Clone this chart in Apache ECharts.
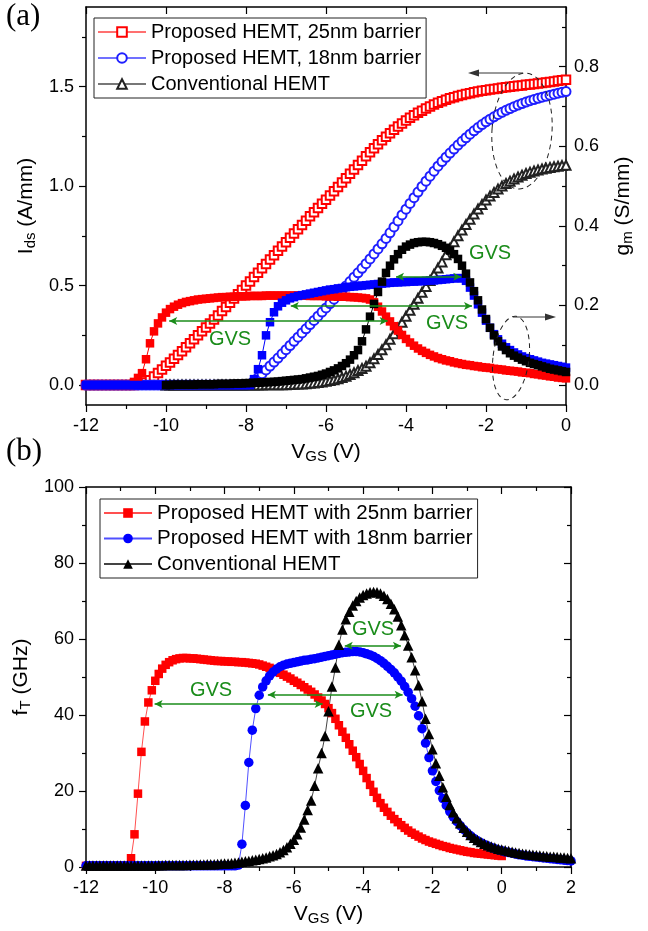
<!DOCTYPE html>
<html>
<head>
<meta charset="utf-8">
<script src="https://cdn.jsdelivr.net/npm/echarts@6/dist/echarts.min.js"></script>
<style>
html, body { margin: 0; padding: 0; background: #fff; }
#chart { width: 648px; height: 931px; }
</style>
</head>
<body>
<div id="chart"></div>
<script>
// gate voltage sweep (V), 0.1 V step
var vgs = [
  -12, -11.9, -11.8, -11.7, -11.6, -11.5, -11.4, -11.3, -11.2, -11.1,
  -11, -10.9, -10.8, -10.7, -10.6, -10.5, -10.4, -10.3, -10.2, -10.1,
  -10, -9.9, -9.8, -9.7, -9.6, -9.5, -9.4, -9.3, -9.2, -9.1,
  -9, -8.9, -8.8, -8.7, -8.6, -8.5, -8.4, -8.3, -8.2, -8.1,
  -8, -7.9, -7.8, -7.7, -7.6, -7.5, -7.4, -7.3, -7.2, -7.1,
  -7, -6.9, -6.8, -6.7, -6.6, -6.5, -6.4, -6.3, -6.2, -6.1,
  -6, -5.9, -5.8, -5.7, -5.6, -5.5, -5.4, -5.3, -5.2, -5.1,
  -5, -4.9, -4.8, -4.7, -4.6, -4.5, -4.4, -4.3, -4.2, -4.1,
  -4, -3.9, -3.8, -3.7, -3.6, -3.5, -3.4, -3.3, -3.2, -3.1,
  -3, -2.9, -2.8, -2.7, -2.6, -2.5, -2.4, -2.3, -2.2, -2.1,
  -2, -1.9, -1.8, -1.7, -1.6, -1.5, -1.4, -1.3, -1.2, -1.1,
  -1, -0.9, -0.8, -0.7, -0.6, -0.5, -0.4, -0.3, -0.2, -0.1,
  0, 0.1, 0.2, 0.3, 0.4, 0.5, 0.6, 0.7, 0.8, 0.9,
  1, 1.1, 1.2, 1.3, 1.4, 1.5, 1.6, 1.7, 1.8, 1.9,
  2
];
var vgsA = vgs.slice(0, 121);    // -12 .. 0
var vgsA10 = vgs.slice(20, 121); // -10 .. 0 (conventional device in (a))

// (a) drain current Ids (A/mm), -12 .. 0
var idsRed = [
  0, 0, 0, 0, 0, 0, 0, 0, 0, 0,
  0, 0, 0, 0.002, 0.006, 0.013, 0.025, 0.043, 0.061, 0.079,
  0.097, 0.114, 0.132, 0.151, 0.17, 0.19, 0.21, 0.23, 0.25, 0.27,
  0.29, 0.31, 0.33, 0.35, 0.372, 0.393, 0.414, 0.435, 0.456, 0.478,
  0.5, 0.521, 0.543, 0.565, 0.587, 0.609, 0.631, 0.653, 0.675, 0.697,
  0.718, 0.74, 0.762, 0.783, 0.805, 0.826, 0.848, 0.869, 0.89, 0.911,
  0.932, 0.953, 0.974, 0.996, 1.018, 1.04, 1.062, 1.084, 1.106, 1.128,
  1.15, 1.17, 1.19, 1.21, 1.23, 1.248, 1.266, 1.283, 1.3, 1.315,
  1.33, 1.343, 1.356, 1.368, 1.379, 1.39, 1.4, 1.41, 1.419, 1.427,
  1.434, 1.441, 1.447, 1.453, 1.458, 1.463, 1.467, 1.471, 1.475, 1.479,
  1.482, 1.485, 1.488, 1.491, 1.494, 1.497, 1.499, 1.502, 1.504, 1.506,
  1.509, 1.511, 1.513, 1.516, 1.518, 1.52, 1.523, 1.526, 1.529, 1.532,
  1.535
];
var idsBlue = [
  0, 0, 0, 0, 0, 0, 0, 0, 0, 0,
  0, 0, 0, 0, 0, 0, 0, 0, 0, 0,
  0, 0, 0, 0, 0, 0, 0, 0, 0, 0,
  0, 0, 0, 0, 0, 0, 0, 0, 0, 0,
  0, 0.005, 0.02, 0.038, 0.057, 0.076, 0.096, 0.116, 0.136, 0.157,
  0.178, 0.199, 0.22, 0.241, 0.262, 0.283, 0.304, 0.325, 0.346, 0.367,
  0.388, 0.41, 0.432, 0.454, 0.476, 0.498, 0.52, 0.542, 0.564, 0.587,
  0.61, 0.634, 0.659, 0.684, 0.71, 0.737, 0.765, 0.795, 0.825, 0.855,
  0.884, 0.913, 0.942, 0.97, 0.998, 1.025, 1.05, 1.075, 1.1, 1.123,
  1.145, 1.166, 1.186, 1.206, 1.225, 1.243, 1.261, 1.278, 1.294, 1.309,
  1.323, 1.336, 1.348, 1.36, 1.371, 1.381, 1.39, 1.399, 1.407, 1.415,
  1.422, 1.429, 1.435, 1.441, 1.447, 1.452, 1.457, 1.462, 1.467, 1.471,
  1.475
];
// conventional, -10 .. 0
var idsBlack = [
  0, 0, 0, 0, 0, 0, 0, 0, 0, 0,
  0, 0, 0, 0, 0, 0, 0, 0, 0, 0,
  0.001, 0.001, 0.001, 0.001, 0.001, 0.002, 0.002, 0.002, 0.002, 0.002,
  0.002, 0.003, 0.004, 0.005, 0.006, 0.007, 0.009, 0.011, 0.013, 0.016,
  0.019, 0.023, 0.027, 0.032, 0.038, 0.045, 0.053, 0.062, 0.073, 0.084,
  0.095, 0.112, 0.132, 0.154, 0.178, 0.203, 0.23, 0.258, 0.287, 0.316,
  0.346, 0.376, 0.406, 0.436, 0.466, 0.496, 0.526, 0.557, 0.588, 0.619,
  0.655, 0.688, 0.72, 0.75, 0.779, 0.807, 0.834, 0.86, 0.885, 0.908,
  0.93, 0.95, 0.968, 0.985, 1, 1.013, 1.025, 1.036, 1.046, 1.055,
  1.063, 1.07, 1.076, 1.081, 1.086, 1.09, 1.094, 1.097, 1.1, 1.103,
  1.105
];

// (a) transconductance gm (S/mm)
var gmRed = [
  0, 0, 0, 0, 0, 0, 0, 0, 0, 0,
  0, 0, 0.008, 0.018, 0.03, 0.065, 0.105, 0.135, 0.155, 0.17,
  0.182, 0.191, 0.197, 0.202, 0.206, 0.209, 0.211, 0.213, 0.215, 0.216,
  0.217, 0.218, 0.219, 0.22, 0.221, 0.221, 0.222, 0.222, 0.223, 0.223,
  0.223, 0.224, 0.224, 0.224, 0.224, 0.225, 0.225, 0.225, 0.225, 0.225,
  0.225, 0.225, 0.225, 0.225, 0.225, 0.225, 0.224, 0.224, 0.224, 0.224,
  0.223, 0.223, 0.223, 0.222, 0.222, 0.222, 0.221, 0.221, 0.22, 0.219,
  0.218, 0.215, 0.208, 0.197, 0.185, 0.172, 0.16, 0.148, 0.137, 0.126,
  0.116, 0.107, 0.099, 0.092, 0.086, 0.081, 0.076, 0.072, 0.068, 0.065,
  0.062, 0.06, 0.057, 0.055, 0.053, 0.051, 0.05, 0.048, 0.047, 0.045,
  0.044, 0.043, 0.041, 0.04, 0.039, 0.037, 0.036, 0.035, 0.034, 0.032,
  0.031, 0.03, 0.028, 0.027, 0.025, 0.024, 0.022, 0.021, 0.019, 0.018,
  0.017
];
var gmBlue = [
  0, 0, 0, 0, 0, 0, 0, 0, 0, 0,
  0, 0, 0, 0, 0, 0, 0, 0, 0, 0,
  0, 0, 0, 0, 0, 0, 0, 0, 0, 0,
  0, 0, 0, 0, 0, 0, 0, 0, 0, 0,
  0, 0, 0.015, 0.04, 0.075, 0.125, 0.158, 0.183, 0.198, 0.207,
  0.213, 0.218, 0.221, 0.224, 0.226, 0.228, 0.23, 0.232, 0.234, 0.236,
  0.238, 0.24, 0.241, 0.243, 0.244, 0.246, 0.247, 0.248, 0.249, 0.25,
  0.251, 0.252, 0.253, 0.254, 0.255, 0.256, 0.257, 0.258, 0.258, 0.259,
  0.259, 0.26, 0.26, 0.261, 0.261, 0.262, 0.263, 0.263, 0.264, 0.265,
  0.266, 0.267, 0.268, 0.269, 0.268, 0.262, 0.245, 0.225, 0.203, 0.182,
  0.162, 0.144, 0.128, 0.115, 0.104, 0.095, 0.088, 0.082, 0.077, 0.072,
  0.068, 0.065, 0.062, 0.059, 0.056, 0.054, 0.052, 0.05, 0.048, 0.046,
  0.044
];
var gmBlack = [
  0, 0, 0.001, 0.001, 0.001, 0.001, 0.001, 0.001, 0.002, 0.002,
  0.002, 0.002, 0.002, 0.003, 0.003, 0.003, 0.003, 0.004, 0.004, 0.004,
  0.005, 0.005, 0.006, 0.006, 0.007, 0.007, 0.008, 0.008, 0.009, 0.01,
  0.011, 0.012, 0.013, 0.014, 0.015, 0.017, 0.019, 0.021, 0.023, 0.026,
  0.029, 0.033, 0.037, 0.042, 0.048, 0.055, 0.064, 0.075, 0.088, 0.11,
  0.14, 0.172, 0.204, 0.234, 0.26, 0.282, 0.3, 0.316, 0.329, 0.34,
  0.348, 0.353, 0.357, 0.359, 0.36, 0.36, 0.359, 0.357, 0.354, 0.35,
  0.345, 0.338, 0.329, 0.317, 0.3, 0.28, 0.258, 0.236, 0.213, 0.19,
  0.166, 0.144, 0.125, 0.11, 0.097, 0.088, 0.08, 0.074, 0.069, 0.064,
  0.06, 0.056, 0.053, 0.05, 0.047, 0.044, 0.041, 0.039, 0.037, 0.035,
  0.033
];

// (b) cut-off frequency fT (GHz)
var ftRed = [
  0.3, 0.3, 0.3, 0.3, 0.3, 0.3, 0.3, 0.3, 0.3, 0.3,
  0.3, 0.3, 0.3, 2.3, 8.6, 19.3, 30.3, 38.3, 43.3, 46.5,
  49, 50.8, 52.2, 53.2, 53.9, 54.4, 54.7, 54.9, 55, 55,
  54.9, 54.9, 54.8, 54.7, 54.6, 54.5, 54.4, 54.3, 54.2, 54.2,
  54.1, 54.1, 54, 54, 53.9, 53.9, 53.8, 53.7, 53.6, 53.5,
  53.3, 53, 52.7, 52.4, 52, 51.6, 51.1, 50.6, 50.1, 49.6,
  49, 48.5, 47.9, 47.3, 46.7, 46.1, 45.4, 44.6, 43.8, 42.9,
  41.8, 40.5, 39, 37.3, 35.6, 34, 32.3, 30.6, 28.9, 27.1,
  25.3, 23.4, 21.6, 19.8, 18.2, 16.8, 15.6, 14.5, 13.5, 12.6,
  11.8, 11, 10.3, 9.6, 9, 8.5, 8, 7.5, 7.1, 6.7,
  6.4, 6.1, 5.8, 5.5, 5.3, 5, 4.8, 4.6, 4.4, 4.2,
  4, 3.9, 3.7, 3.6, 3.5, 3.4, 3.3, 3.2, 3.1, 3,
  2.9
];
var ftBlue = [
  0.3, 0.3, 0.3, 0.3, 0.3, 0.3, 0.3, 0.3, 0.3, 0.3,
  0.3, 0.3, 0.3, 0.3, 0.3, 0.3, 0.3, 0.3, 0.3, 0.3,
  0.3, 0.3, 0.3, 0.3, 0.3, 0.3, 0.3, 0.3, 0.3, 0.3,
  0.3, 0.3, 0.3, 0.3, 0.3, 0.3, 0.3, 0.3, 0.3, 0.3,
  0.3, 0.3, 0.3, 0.3, 0.5, 6, 16.2, 27.5, 36, 41.7,
  45.2, 47.4, 49, 50.3, 51.3, 52.1, 52.7, 53.1, 53.4, 53.6,
  53.8, 54, 54.2, 54.4, 54.5, 54.7, 54.8, 55, 55.2, 55.4,
  55.6, 55.8, 56, 56.2, 56.4, 56.5, 56.6, 56.7, 56.7, 56.6,
  56.4, 56.1, 55.8, 55.4, 54.9, 54.3, 53.6, 52.8, 52, 51.1,
  50, 48.9, 47.5, 46, 44.3, 42.3, 39.8, 36.4, 32.6, 28.8,
  25.3, 22.5, 20.1, 18, 16.2, 14.6, 13.2, 12, 10.9, 9.9,
  9, 8.2, 7.5, 6.9, 6.4, 5.9, 5.5, 5.1, 4.8, 4.5,
  4.3, 4, 3.8, 3.6, 3.4, 3.2, 3.1, 2.9, 2.8, 2.7,
  2.6, 2.5, 2.4, 2.3, 2.2, 2.1, 2, 1.9, 1.8, 1.7,
  1.6
];
var ftBlack = [
  0.4, 0.4, 0.4, 0.4, 0.4, 0.4, 0.4, 0.4, 0.4, 0.4,
  0.4, 0.4, 0.4, 0.4, 0.4, 0.4, 0.4, 0.4, 0.4, 0.4,
  0.4, 0.45, 0.45, 0.5, 0.5, 0.5, 0.5, 0.55, 0.55, 0.55,
  0.6, 0.6, 0.6, 0.65, 0.65, 0.7, 0.7, 0.75, 0.8, 0.85,
  0.9, 0.95, 1, 1.1, 1.2, 1.4, 1.5, 1.6, 1.8, 1.9,
  2.1, 2.3, 2.5, 2.8, 3.1, 3.4, 3.9, 4.5, 5.2, 6.1,
  7.2, 8.6, 10.4, 12.5, 15, 17.5, 21.4, 26, 30, 34.5,
  41, 47.5, 52.5, 58.5, 62.5, 65.2, 67.2, 68.8, 70, 70.9,
  71.6, 72, 72.3, 72.4, 72.3, 72, 71.4, 70.5, 69.3, 67.8,
  65.9, 63.6, 61, 58.3, 55.2, 51.8, 47.8, 43.6, 39, 35,
  31, 27.3, 24, 21, 18.5, 16.3, 14.4, 12.8, 11.5, 10.3,
  9.3, 8.4, 7.7, 7.1, 6.6, 6.1, 5.7, 5.4, 5.1, 4.8,
  4.6, 4.4, 4.2, 4, 3.8, 3.7, 3.5, 3.4, 3.3, 3.2,
  3.1, 3, 2.9, 2.8, 2.7, 2.7, 2.6, 2.5, 2.5, 2.4,
  2.3
];

// GVS arrows: [from Vgs, to Vgs, level]
var gvsA = [[-9.92, -4.46, 0.161], [-6.88, -2.35, 0.199], [-4.25, -2.62, 0.272]]; // gm axis
var gvsB = [[-10.02, -5.17, 42.9], [-6.75, -2.86, 45.3], [-4.53, -2.91, 58.2]];   // fT axis

var idsTicks = [0, 0.5, 1.0, 1.5];
var idsMinor = [0.25, 0.75, 1.25, 1.75];
var gmTicks = [0, 0.2, 0.4, 0.6, 0.8];
var gmMinor = [0.1, 0.3, 0.5, 0.7, 0.9];

var FONT = '"Liberation Sans", Arial, sans-serif';
var GREEN = '#1a8c1a';

function pts(xs, ys) {
    return ys.map(function (y, i) { return [xs[i], y]; });
}

var nameRich = {
    m: { fontSize: 21, fontFamily: FONT, color: '#000', lineHeight: 24 },
    s: { fontSize: 15, fontFamily: FONT, color: '#000', lineHeight: 8, verticalAlign: 'bottom' }
};
var axLine = { onZero: false, lineStyle: { color: '#000', width: 1.5 } };
var axLabel = { color: '#000', fontSize: 18, fontFamily: FONT, margin: 12 };
var tickLine = { color: '#000', width: 1.2 };

function lineS(name, xi, yi, data, symbol, size, color, lineColor, extra) {
    var s = {
        name: name,
        type: 'line',
        xAxisIndex: xi,
        yAxisIndex: yi,
        data: data,
        symbol: symbol,
        symbolSize: size,
        showAllSymbol: true,
        itemStyle: { color: color, borderWidth: 1.1 },
        lineStyle: { color: lineColor, width: 1 },
        emphasis: { disabled: true }
    };
    if (extra) Object.assign(s, extra);
    return s;
}

function gvsLine(arr) {
    return {
        silent: true,
        symbol: ['arrow', 'arrow'],
        symbolSize: [6, 8],
        label: { show: false },
        emphasis: { disabled: true },
        lineStyle: { color: GREEN, width: 1.5, type: 'solid' },
        data: arr.map(function (a) {
            return [{ coord: [a[0], a[2]] }, { coord: [a[1], a[2]] }];
        })
    };
}

function gvsText(x, y) {
    return {
        type: 'text', x: x, y: y, z: 100,
        style: { text: 'GVS', fill: GREEN, font: '20px ' + FONT, align: 'center', verticalAlign: 'middle' }
    };
}

var oChart = echarts.init(document.getElementById('chart'));

var chartopt = {
    animation: false,
    backgroundColor: '#fff',
    textStyle: { fontFamily: FONT },
    grid: [
        { left: 86, top: 7, width: 480, height: 398 },
        { left: 86, top: 487, width: 485, height: 380 }
    ],
    legend: [{
        orient: 'vertical',
        left: 94, top: 18,
        padding: [4, 5, 4, 3],
        itemWidth: 48, itemHeight: 12, itemGap: 6,
        borderColor: '#222', borderWidth: 1, backgroundColor: '#fff',
        textStyle: { fontFamily: FONT, fontSize: 20, color: '#000', lineHeight: 20 },
        data: ['Proposed HEMT, 25nm barrier', 'Proposed HEMT, 18nm barrier', 'Conventional HEMT']
    }, {
        orient: 'vertical',
        left: 100, top: 499,
        padding: [3.5, 5, 3.5, 3],
        itemWidth: 48, itemHeight: 12, itemGap: 4.5,
        borderColor: '#222', borderWidth: 1, backgroundColor: '#fff',
        textStyle: { fontFamily: FONT, fontSize: 20.5, color: '#000', lineHeight: 20 },
        formatter: function (name) { return name.replace(' (b)', ''); },
        data: ['Proposed HEMT with 25nm barrier', 'Proposed HEMT with 18nm barrier', 'Conventional HEMT (b)']
    }],
    xAxis: [{
        type: 'value', gridIndex: 0, position: 'bottom',
        min: -12, max: 0, interval: 2,
        axisLine: axLine,
        axisTick: { length: 7, lineStyle: tickLine },
        minorTick: { show: true, splitNumber: 2, length: 4, lineStyle: tickLine },
        axisLabel: axLabel,
        splitLine: { show: false },
        name: '{m|V}{s|GS}{m| (V)}', nameLocation: 'middle', nameGap: 35,
        nameTextStyle: { rich: nameRich }
    }, {
        type: 'value', gridIndex: 0, position: 'top',
        min: -12, max: 0, interval: 2,
        axisLine: axLine,
        axisTick: { inside: true, length: 7, lineStyle: tickLine },
        axisLabel: { show: false },
        splitLine: { show: false }
    }, {
        type: 'value', gridIndex: 1, position: 'bottom',
        min: -12, max: 2, interval: 2,
        axisLine: axLine,
        axisTick: { length: 7, lineStyle: tickLine },
        minorTick: { show: true, splitNumber: 2, length: 4, lineStyle: tickLine },
        axisLabel: axLabel,
        splitLine: { show: false },
        name: '{m|V}{s|GS}{m| (V)}', nameLocation: 'middle', nameGap: 35,
        nameTextStyle: { rich: nameRich }
    }, {
        type: 'value', gridIndex: 1, position: 'top',
        min: -12, max: 2, interval: 2,
        axisLine: axLine,
        axisTick: { inside: true, length: 7, lineStyle: tickLine },
        minorTick: { show: true, splitNumber: 2, length: 4, lineStyle: tickLine },
        axisLabel: { show: false },
        splitLine: { show: false }
    }],
    yAxis: [{
        // Ids
        type: 'value', gridIndex: 0, position: 'left',
        min: -0.1, max: 1.9,
        axisLine: axLine,
        axisTick: { length: 7, customValues: idsTicks, lineStyle: tickLine },
        axisLabel: Object.assign({}, axLabel, {
            customValues: idsTicks,
            formatter: function (v) { return v.toFixed(1); }
        }),
        splitLine: { show: false },
        name: '{m|I}{s|ds}{m| (A/mm)}', nameLocation: 'middle', nameGap: 48, nameRotate: 90,
        nameTextStyle: { rich: nameRich }
    }, {
        type: 'value', gridIndex: 0, position: 'left',
        min: -0.1, max: 1.9,
        axisLine: { show: false, onZero: false },
        axisTick: { length: 4, customValues: idsMinor, lineStyle: tickLine },
        axisLabel: { show: false },
        splitLine: { show: false }
    }, {
        // gm
        type: 'value', gridIndex: 0, position: 'right',
        min: -0.05, max: 0.95,
        axisLine: axLine,
        axisTick: { inside: true, length: 7, customValues: gmTicks, lineStyle: tickLine },
        axisLabel: Object.assign({}, axLabel, {
            margin: 8,
            customValues: gmTicks,
            formatter: function (v) { return v.toFixed(1); }
        }),
        splitLine: { show: false },
        name: '{m|g}{s|m}{m| (S/mm)}', nameLocation: 'middle', nameGap: 45, nameRotate: 90,
        nameTextStyle: { rich: nameRich }
    }, {
        type: 'value', gridIndex: 0, position: 'right',
        min: -0.05, max: 0.95,
        axisLine: { show: false, onZero: false },
        axisTick: { inside: true, length: 4, customValues: gmMinor, lineStyle: tickLine },
        axisLabel: { show: false },
        splitLine: { show: false }
    }, {
        // fT
        type: 'value', gridIndex: 1, position: 'left',
        min: 0, max: 100, interval: 20,
        axisLine: axLine,
        axisTick: { length: 7, lineStyle: tickLine },
        minorTick: { show: true, splitNumber: 2, length: 4, lineStyle: tickLine },
        axisLabel: axLabel,
        splitLine: { show: false },
        name: '{m|f}{s|T}{m| (GHz)}', nameLocation: 'middle', nameGap: 48, nameRotate: 90,
        nameTextStyle: { rich: nameRich }
    }, {
        type: 'value', gridIndex: 1, position: 'right',
        min: 0, max: 100, interval: 20,
        axisLine: axLine,
        axisTick: { inside: true, length: 7, lineStyle: tickLine },
        minorTick: { show: true, splitNumber: 2, length: 4, lineStyle: tickLine },
        axisLabel: { show: false },
        splitLine: { show: false }
    }],
    series: [
        // (a) Ids, open symbols
        lineS('Proposed HEMT, 25nm barrier', 0, 0, pts(vgsA, idsRed), 'emptyRect', 8.5, '#ff0000', '#ff7070'),
        lineS('Proposed HEMT, 18nm barrier', 0, 0, pts(vgsA, idsBlue), 'emptyCircle', 9, '#1f1fff', '#7070ff'),
        lineS('Conventional HEMT', 0, 0, pts(vgsA10, idsBlack), 'emptyTriangle', 9, '#222', '#777'),
        // (a) gm, filled squares
        lineS('gm 25nm', 0, 2, pts(vgsA, gmRed), 'rect', 8.5, '#ff0000', '#ff0000'),
        lineS('gm 18nm', 0, 2, pts(vgsA, gmBlue), 'rect', 8.5, '#0000ff', '#0000ff'),
        lineS('gm conventional', 0, 2, pts(vgsA10, gmBlack), 'rect', 8.5, '#000', '#000',
            { markLine: gvsLine(gvsA) }),
        // (b) fT
        lineS('Proposed HEMT with 25nm barrier', 2, 4, pts(vgsA, ftRed), 'rect', 8.5, '#ff0000', '#ff5050'),
        lineS('Proposed HEMT with 18nm barrier', 2, 4, pts(vgs, ftBlue), 'circle', 9.5, '#0000ff', '#5050ff'),
        lineS('Conventional HEMT (b)', 2, 4, pts(vgs, ftBlack), 'triangle', 10.5, '#000', '#444',
            { markLine: gvsLine(gvsB) })
    ],
    graphic: [
        { type: 'text', x: 6, y: 1, z: 100, style: { text: '(a)', fill: '#000', font: '31px "Liberation Serif", "Times New Roman", serif', verticalAlign: 'top' } },
        { type: 'text', x: 6, y: 436, z: 100, style: { text: '(b)', fill: '#000', font: '31px "Liberation Serif", "Times New Roman", serif', verticalAlign: 'top' } },
        // dashed ellipses marking which axis each curve group uses
        { type: 'ellipse', x: 522, y: 131, rotation: -0.07, z: 90, shape: { cx: 0, cy: 0, rx: 30, ry: 58 },
          style: { fill: 'none', stroke: '#222', lineWidth: 1, lineDash: [5, 4] } },
        { type: 'ellipse', x: 511, y: 358, rotation: -0.12, z: 90, shape: { cx: 0, cy: 0, rx: 18, ry: 42 },
          style: { fill: 'none', stroke: '#222', lineWidth: 1, lineDash: [5, 4] } },
        { type: 'line', z: 90, shape: { x1: 523, y1: 73, x2: 478, y2: 73 }, style: { stroke: '#333', lineWidth: 1 } },
        { type: 'polygon', z: 90, shape: { points: [[468, 73], [479, 69.5], [479, 76.5]] }, style: { fill: '#333' } },
        { type: 'line', z: 90, shape: { x1: 513, y1: 317, x2: 546, y2: 317 }, style: { stroke: '#333', lineWidth: 1 } },
        { type: 'polygon', z: 90, shape: { points: [[556, 317], [545, 313.5], [545, 320.5]] }, style: { fill: '#333' } },
        gvsText(230, 339), gvsText(447, 323), gvsText(490, 253),
        gvsText(211, 690), gvsText(371, 711), gvsText(373, 629)
    ]
};

oChart.setOption(chartopt);
</script>
</body>
</html>
